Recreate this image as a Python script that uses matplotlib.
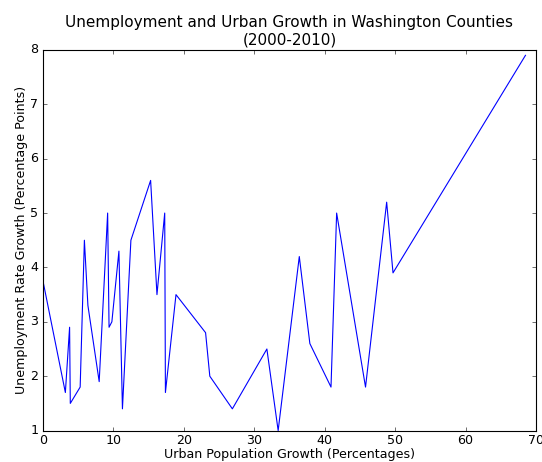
import matplotlib
matplotlib.use('Agg')
import matplotlib.pyplot as plt

plt.style.use('classic')
plt.rcParams['font.size'] = 11.4
plt.rcParams['xtick.major.pad'] = 3
plt.rcParams['ytick.major.pad'] = 4

# urban population growth (%) vs unemployment rate growth (pct points)
urban_growth = [0.1, 3.2, 3.8, 3.9, 5.3, 5.9, 6.4, 8.0, 9.2, 9.4, 9.8, 10.8,
                11.3, 12.5, 15.3, 16.2, 17.3, 17.4, 18.9, 23.1, 23.7, 26.9,
                31.8, 33.4, 36.4, 37.9, 40.9, 41.7, 45.8, 48.8, 49.7, 68.5]
unemp_growth = [3.7, 1.7, 2.9, 1.5, 1.8, 4.5, 3.3, 1.9, 5.0, 2.9, 3.0, 4.3,
                1.4, 4.5, 5.6, 3.5, 5.0, 1.7, 3.5, 2.8, 2.0, 1.4,
                2.5, 1.0, 4.2, 2.6, 1.8, 5.0, 1.8, 5.2, 3.9, 7.9]

fig = plt.figure(figsize=(542 / 80, 462 / 80), dpi=80)
ax = fig.add_subplot(111)
ax.plot(urban_growth, unemp_growth, 'b-')
ax.set_xlim(0, 70)
ax.set_ylim(1, 8)
ax.set_title('Unemployment and Urban Growth in Washington Counties\n(2000-2010)')
ax.set_xlabel('Urban Population Growth (Percentages)', labelpad=1)
ax.set_ylabel('Unemployment Rate Growth (Percentage Points)', labelpad=2)

fig.subplots_adjust(left=0.079, right=0.989, top=0.892, bottom=0.068)
fig.savefig('out.png', dpi=80, facecolor='white')
